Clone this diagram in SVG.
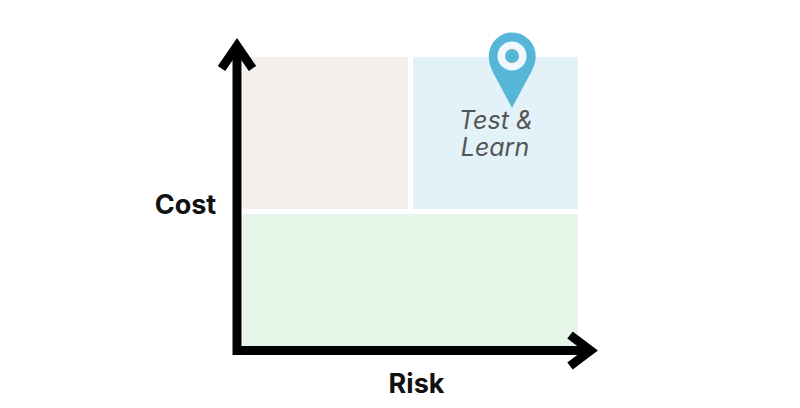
<svg xmlns="http://www.w3.org/2000/svg" width="800" height="408" viewBox="0 0 800 408">
<style>
.axis{fill:none;stroke:#000;stroke-width:9}
.lab{font-family:"Inter","Liberation Sans",sans-serif;font-weight:700;font-size:27px;fill:#111;text-anchor:middle}
.q{font-family:"Inter","Liberation Sans",sans-serif;font-style:italic;font-size:25px;fill:#555;text-anchor:middle}
</style>
<rect width="800" height="408" fill="#fff"/>
<g id="quadrant-top-left"><rect x="243" y="57" width="165" height="152" fill="#f3efec"/></g>
<g id="quadrant-top-right"><rect x="413" y="57" width="165" height="152" fill="#e3f2f8"/>
<text class="q" x="496" y="129">Test &amp;</text><text class="q" x="495" y="156">Learn</text></g>
<g id="quadrant-bottom"><rect x="243" y="214" width="335" height="132" fill="#e5f6e8"/></g>
<g id="pin">
<path d="M512 108L495 76C491 69 488.700 63 488.700 56A23.300 23.300 0 0 1 535.700 56C535.700 63 533 69 529 76Z" fill="#55b6d8"/>
<circle cx="512" cy="56" r="14.500" fill="#f0f8fb"/><circle cx="512" cy="56" r="7" fill="#55b6d8"/>
</g>
<g id="connectors">
<path class="axis" d="M237 355V46"/>
<path class="axis" d="M221.500 68.500L237 46L252.500 68.500"/>
<path class="axis" d="M233 350.500H590"/>
<path class="axis" d="M570 335L590.500 350.500L570 366"/>
</g>
<g id="label-cost"><text class="lab" x="185.500" y="214">Cost</text></g>
<g id="label-risk"><text class="lab" x="416.500" y="393">Risk</text></g>
</svg>
